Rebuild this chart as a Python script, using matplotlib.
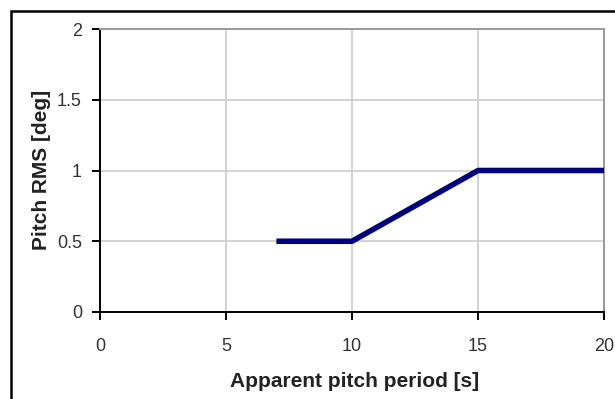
import matplotlib
matplotlib.use("Agg")
import matplotlib.pyplot as plt
from matplotlib.patches import Rectangle

period = [7, 10, 15, 20]
pitch_rms = [0.5, 0.5, 1.0, 1.0]
xticks = [0, 5, 10, 15, 20]
yticks = [0, 0.5, 1, 1.5, 2]
ytick_labels = ["0", "0.5", "1", "1.5", "2"]

plt.rcParams['font.family'] = ['Liberation Sans', 'DejaVu Sans']

fig = plt.figure(figsize=(6.15, 3.99), dpi=100)
ax = fig.add_axes([100/615, 1-312/399, 504/615, 283/399])

ax.plot(period, pitch_rms, color='#000080', linewidth=4.0, solid_capstyle='butt', zorder=3)

ax.set_xlim(0, 20)
ax.set_ylim(0, 2)
ax.set_xticks(xticks)
ax.set_yticks(yticks)
ax.set_yticklabels(ytick_labels)
ax.grid(True, color='#cccccc', linewidth=1.2)
ax.set_axisbelow(True)

for s in ['left', 'bottom']:
    ax.spines[s].set_color('black')
    ax.spines[s].set_linewidth(1.4)
for s in ['top', 'right']:
    ax.spines[s].set_color('#999999')
    ax.spines[s].set_linewidth(1.4)

ax.tick_params(direction='out', length=6, width=1.4, color='black', labelsize=13, labelcolor='#333333')
ax.tick_params(axis='x', pad=13)
ax.tick_params(axis='y', pad=7)

ax.set_xlabel('Apparent pitch period [s]', fontsize=15, fontweight='bold', color='#222222', va='center')
ax.set_ylabel('Pitch RMS [deg]', fontsize=15, fontweight='bold', color='#222222', va='center')
ax.xaxis.set_label_coords(0.506, -0.244)
ax.yaxis.set_label_coords(-0.117, 0.502)

frame = Rectangle((11/615, -0.05), 1.1, 1-11/399+0.05, transform=fig.transFigure,
                  fill=False, edgecolor='black', linewidth=1.8, clip_on=False)
fig.patches.append(frame)

fig.savefig('out.png', dpi=100)
